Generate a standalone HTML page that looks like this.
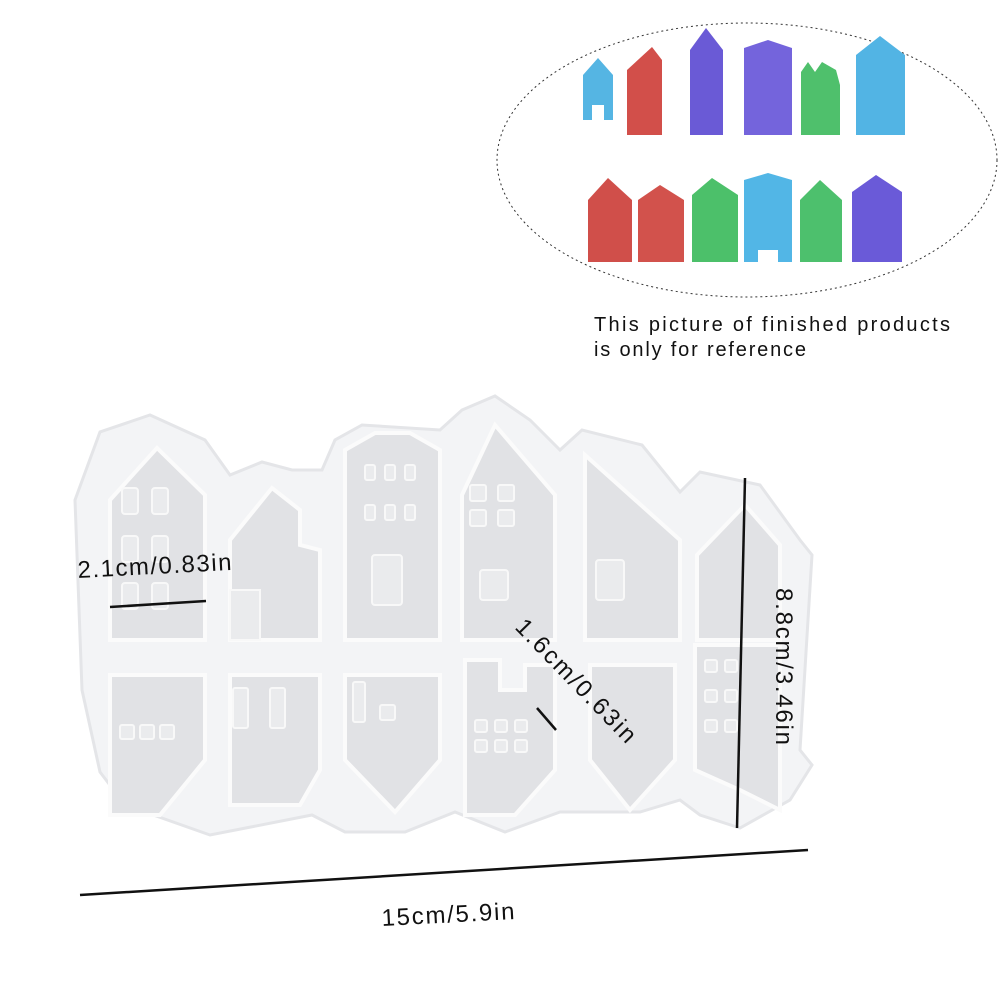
<!DOCTYPE html>
<html><head><meta charset="utf-8"><style>
html,body{margin:0;padding:0;background:#fff;}
svg{display:block;}
text{font-family:"Liberation Sans",sans-serif;}
</style></head><body>
<svg width="1000" height="1000" viewBox="0 0 1000 1000">
<ellipse cx="747" cy="160" rx="250" ry="137" fill="none" stroke="#333" stroke-width="1" stroke-dasharray="2,3"/>
<g>
<polygon points="583,75 598,58 613,75 613,120 604,120 604,105 592,105 592,120 583,120" fill="#55b5e3"/>
<polygon points="627,70 652,47 662,60 662,135 627,135" fill="#d24f4a"/>
<polygon points="690,50 706,28 723,50 723,135 690,135" fill="#6a5ad6"/>
<polygon points="744,48 768,40 792,48 792,135 744,135" fill="#7464dc"/>
<polygon points="801,72 808,62 815,72 822,62 836,70 840,85 840,135 801,135" fill="#4fc06c"/>
<polygon points="856,55 880,36 905,55 905,135 856,135" fill="#52b4e4"/>
</g>
<g>
<polygon points="588,200 608,178 632,200 632,262 588,262" fill="#d04f4a"/>
<polygon points="638,200 660,185 684,200 684,262 638,262" fill="#d2524c"/>
<polygon points="692,195 712,178 738,195 738,262 692,262" fill="#4cc06a"/>
<polygon points="744,180 768,173 792,180 792,262 778,262 778,250 758,250 758,262 744,262" fill="#52b6e6"/>
<polygon points="800,200 820,180 842,200 842,262 800,262" fill="#4dc06d"/>
<polygon points="852,192 876,175 902,192 902,262 852,262" fill="#6a5ad8"/>
</g>
<text x="594" y="331" font-size="20" fill="#111" textLength="356" lengthAdjust="spacing">This  picture of  finished products</text>
<text x="594" y="356" font-size="20" fill="#111" textLength="212" lengthAdjust="spacing">is only for  reference</text>

<polygon points="75,500 100,432 150,415 205,440 230,475 262,462 292,470 322,470 335,440 362,425 440,430 462,410 495,396 530,420 560,450 582,430 642,445 680,492 700,472 760,485 800,540 812,555 800,750 812,765 790,800 740,828 700,815 680,800 640,812 560,812 505,832 455,812 405,832 345,832 312,815 210,835 125,805 100,772 82,690" fill="#f3f4f6" stroke="#e4e5e8" stroke-width="3"/>
<g fill="#e1e2e5" stroke="#fbfbfb" stroke-width="4">
<polygon points="110,500 157,448 205,495 205,640 110,640"/>
<polygon points="230,540 272,488 300,510 300,545 320,550 320,640 230,640"/>
<polygon points="345,450 375,433 410,433 440,450 440,640 345,640"/>
<polygon points="462,495 495,425 555,495 555,640 462,640"/>
<polygon points="585,455 680,540 680,640 585,640"/>
<polygon points="697,555 745,505 780,545 780,640 697,640"/>
<polygon points="110,675 205,675 205,760 160,815 110,815"/>
<polygon points="230,675 320,675 320,770 300,805 230,805"/>
<polygon points="345,675 440,675 440,760 395,812 345,760"/>
<polygon points="465,660 500,660 500,690 525,690 525,665 555,665 555,770 515,815 465,815"/>
<polygon points="590,665 675,665 675,760 630,810 590,760"/>
<polygon points="695,645 780,645 780,810 740,790 695,770"/>
</g>
<g fill="#eaebed" stroke="#f8f8f8" stroke-width="2">
<rect x="122" y="488" width="16" height="26" rx="3"/><rect x="152" y="488" width="16" height="26" rx="3"/>
<rect x="122" y="536" width="16" height="26" rx="3"/><rect x="152" y="536" width="16" height="26" rx="3"/>
<rect x="122" y="583" width="16" height="26" rx="3"/><rect x="152" y="583" width="16" height="26" rx="3"/>
<rect x="365" y="465" width="10" height="15" rx="2"/><rect x="385" y="465" width="10" height="15" rx="2"/><rect x="405" y="465" width="10" height="15" rx="2"/>
<rect x="365" y="505" width="10" height="15" rx="2"/><rect x="385" y="505" width="10" height="15" rx="2"/><rect x="405" y="505" width="10" height="15" rx="2"/>
<rect x="372" y="555" width="30" height="50" rx="3"/>
<rect x="470" y="485" width="16" height="16" rx="2"/><rect x="498" y="485" width="16" height="16" rx="2"/>
<rect x="470" y="510" width="16" height="16" rx="2"/><rect x="498" y="510" width="16" height="16" rx="2"/>
<rect x="480" y="570" width="28" height="30" rx="3"/>
<rect x="596" y="560" width="28" height="40" rx="3"/>
<rect x="230" y="590" width="30" height="50"/>
<rect x="233" y="688" width="15" height="40" rx="2"/><rect x="270" y="688" width="15" height="40" rx="2"/>
<rect x="353" y="682" width="12" height="40" rx="2"/><rect x="380" y="705" width="15" height="15" rx="2"/>
<rect x="120" y="725" width="14" height="14" rx="2"/><rect x="140" y="725" width="14" height="14" rx="2"/><rect x="160" y="725" width="14" height="14" rx="2"/>
<rect x="475" y="720" width="12" height="12" rx="2"/><rect x="495" y="720" width="12" height="12" rx="2"/><rect x="515" y="720" width="12" height="12" rx="2"/>
<rect x="475" y="740" width="12" height="12" rx="2"/><rect x="495" y="740" width="12" height="12" rx="2"/><rect x="515" y="740" width="12" height="12" rx="2"/>
<rect x="705" y="660" width="12" height="12" rx="2"/><rect x="725" y="660" width="12" height="12" rx="2"/>
<rect x="705" y="690" width="12" height="12" rx="2"/><rect x="725" y="690" width="12" height="12" rx="2"/>
<rect x="705" y="720" width="12" height="12" rx="2"/><rect x="725" y="720" width="12" height="12" rx="2"/>
</g>
<g stroke="#111" stroke-width="2.5" fill="none">
<line x1="80" y1="895" x2="808" y2="850"/>
<line x1="745" y1="478" x2="737" y2="828"/>
<line x1="110" y1="607" x2="206" y2="601"/>
<line x1="537" y1="708" x2="556" y2="730"/>
</g>
<g fill="#111">
<text x="382" y="926" font-size="24" transform="rotate(-3 382 926)" textLength="133">15cm/5.9in</text>
<text x="0" y="0" font-size="24" transform="translate(776,588) rotate(90)" textLength="157">8.8cm/3.46in</text>
<text x="78" y="578" font-size="24" transform="rotate(-3 78 578)" textLength="154">2.1cm/0.83in</text>
<text x="0" y="0" font-size="24" transform="translate(514,628) rotate(46)" textLength="162">1.6cm/0.63in</text>
</g>
</svg>
</body></html>
